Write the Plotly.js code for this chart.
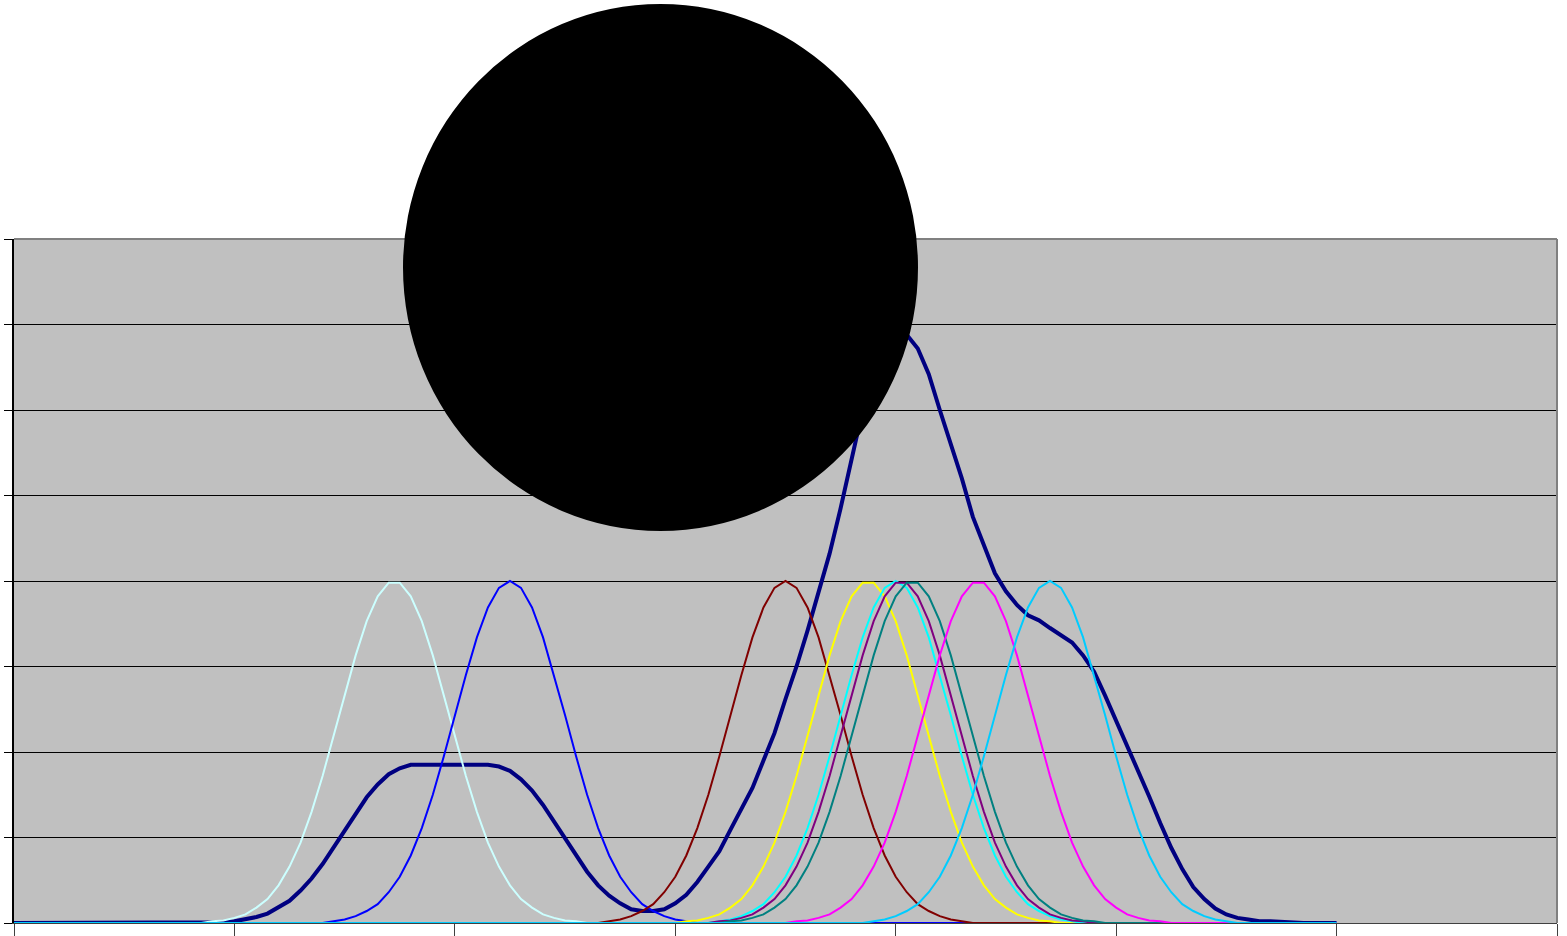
<!DOCTYPE html>
<html>
<head>
<meta charset="utf-8">
<script src="https://cdn.plot.ly/plotly-3.0.1.min.js"></script>
<style>
  html, body { margin: 0; padding: 0; background: #ffffff; }
  #chart { width: 1567px; height: 936px; }
</style>
</head>
<body>
<div id="chart"></div>
<script>
// ---- data (x = sample index 0..120, y = value) ----
const sampleCount = 121;

// thick navy curve, starting at index 18
const navyStart = 18;
const navyValues = [0.01,0.01,0.02,0.04,0.07,0.11,0.18,0.26,0.38,0.52,0.69,0.88,1.08,1.28,1.47,1.62,1.74,1.81,1.85,1.85,
  1.85,1.85,1.85,1.85,1.85,1.85,1.83,1.78,1.68,1.55,1.38,1.18,0.98,0.79,0.60,0.44,0.32,0.23,0.16,0.14,
  0.14,0.16,0.23,0.33,0.48,0.66,0.84,1.09,1.33,1.58,1.90,2.22,2.62,3.00,3.42,3.85,4.32,4.85,5.45,6.00,
  6.45,6.75,6.92,6.88,6.72,6.42,6.00,5.60,5.20,4.75,4.42,4.09,3.88,3.72,3.60,3.54,3.45,3.37,3.28,3.13,
  2.94,2.66,2.37,2.06,1.77,1.48,1.17,0.88,0.63,0.42,0.28,0.17,0.10,0.06,0.04,0.02,0.02,0.01];

const lightGreenStart = 0;
const lightGreenValues = [0];

const lightCyanStart = 18;
const lightCyanValues = [0.02,0.03,0.06,0.10,0.18,0.28,0.44,0.66,0.94,1.30,1.72,2.18,2.67,3.13,3.53,3.82,3.98,
  3.98,3.82,3.53,3.13,2.67,2.18,1.72,1.30,0.94,0.66,0.44,0.28,0.18,0.10,0.06,0.03,0.02];

const blueStart = 29;
const blueValues = [0.02,0.04,0.08,0.14,0.22,0.36,0.54,0.79,1.11,1.50,1.95,2.43,2.90,3.34,3.69,3.92,4.00,
  3.92,3.69,3.34,2.90,2.43,1.95,1.50,1.11,0.79,0.54,0.36,0.22,0.14,0.08,0.04,0.02];

const darkRedStart = 54;
const darkRedValues = [0.02,0.04,0.08,0.14,0.22,0.36,0.54,0.79,1.11,1.50,1.95,2.43,2.90,3.34,3.69,3.92,4.00,
  3.92,3.69,3.34,2.90,2.43,1.95,1.50,1.11,0.79,0.54,0.36,0.22,0.14,0.08,0.04,0.02];

const yellowStart = 61;
const yellowValues = [0.02,0.03,0.06,0.10,0.18,0.28,0.44,0.66,0.94,1.30,1.72,2.18,2.67,3.13,3.53,3.82,3.98,
  3.98,3.82,3.53,3.13,2.67,2.18,1.72,1.30,0.94,0.66,0.44,0.28,0.18,0.10,0.06,0.03,0.02];

const cyanStart = 64;
const cyanValues = [0.02,0.04,0.08,0.14,0.22,0.36,0.54,0.79,1.11,1.50,1.95,2.43,2.90,3.34,3.69,3.92,4.00,
  3.92,3.69,3.34,2.90,2.43,1.95,1.50,1.11,0.79,0.54,0.36,0.22,0.14,0.08,0.04,0.02];

const purpleStart = 64;
const purpleValues = [0.02,0.03,0.06,0.10,0.18,0.28,0.44,0.66,0.94,1.30,1.72,2.18,2.67,3.13,3.53,3.82,3.98,
  3.98,3.82,3.53,3.13,2.67,2.18,1.72,1.30,0.94,0.66,0.44,0.28,0.18,0.10,0.06,0.03,0.02];

const tealStart = 65;
const tealValues = [0.02,0.03,0.06,0.10,0.18,0.28,0.44,0.66,0.94,1.30,1.72,2.18,2.67,3.13,3.53,3.82,3.98,
  3.98,3.82,3.53,3.13,2.67,2.18,1.72,1.30,0.94,0.66,0.44,0.28,0.18,0.10,0.06,0.03,0.02];

const magentaStart = 71;
const magentaValues = [0.02,0.03,0.06,0.10,0.18,0.28,0.44,0.66,0.94,1.30,1.72,2.18,2.67,3.13,3.53,3.82,3.98,
  3.98,3.82,3.53,3.13,2.67,2.18,1.72,1.30,0.94,0.66,0.44,0.28,0.18,0.10,0.06,0.03,0.02];

const skyBlueStart = 78;
const skyBlueValues = [0.02,0.04,0.08,0.14,0.22,0.36,0.54,0.79,1.11,1.50,1.95,2.43,2.90,3.34,3.69,3.92,4.00,
  3.92,3.69,3.34,2.90,2.43,1.95,1.50,1.11,0.79,0.54,0.36,0.22,0.14,0.08,0.04,0.02];

// ---- build full series (zeros outside the read range) ----
const xIndex = Array.from({length: sampleCount}, (_, i) => i);
function fullSeries(start, vals) {
  const y = new Array(sampleCount).fill(0);
  vals.forEach((v, k) => { if (start + k < sampleCount) y[start + k] = v; });
  return y;
}

const seriesDefs = [
  {name: 'Series 0',  start: navyStart,       vals: navyValues,       color: '#000080', width: 4},
  {name: 'Series 1',  start: lightGreenStart, vals: lightGreenValues, color: '#CCFFCC', width: 2},
  {name: 'Series 2',  start: lightCyanStart,  vals: lightCyanValues,  color: '#CCFFFF', width: 2},
  {name: 'Series 3',  start: blueStart,       vals: blueValues,       color: '#0000FF', width: 2},
  {name: 'Series 4',  start: darkRedStart,    vals: darkRedValues,    color: '#800000', width: 2},
  {name: 'Series 5',  start: yellowStart,     vals: yellowValues,     color: '#FFFF00', width: 2},
  {name: 'Series 6',  start: cyanStart,       vals: cyanValues,       color: '#00FFFF', width: 2},
  {name: 'Series 7',  start: purpleStart,     vals: purpleValues,     color: '#800080', width: 2},
  {name: 'Series 8',  start: tealStart,       vals: tealValues,       color: '#008080', width: 2},
  {name: 'Series 9',  start: magentaStart,    vals: magentaValues,    color: '#FF00FF', width: 2},
  {name: 'Series 10', start: skyBlueStart,    vals: skyBlueValues,    color: '#00CCFF', width: 2}
];

// navy is drawn first so thin lines appear over it
const traces = seriesDefs.map(s => ({
  type: 'scatter',
  mode: 'lines',
  name: s.name,
  x: xIndex,
  y: fullSeries(s.start, s.vals),
  line: {color: s.color, width: s.width},
  hoverinfo: 'skip'
}));

// pixel geometry of the figure
const W = 1567, H = 936;
const mL = 14, mR = 10, mT = 239, mB = 13;
const plotW = W - mL - mR, plotH = H - mT - mB;
const px = v => (v - mL) / plotW;
const py = v => (H - mB - v) / plotH;

const layout = {
  width: W,
  height: H,
  margin: {l: mL, r: mR, t: mT, b: mB, pad: 0},
  paper_bgcolor: '#FFFFFF',
  plot_bgcolor: '#C0C0C0',
  showlegend: false,
  xaxis: {
    range: [0, 140],
    tick0: 0, dtick: 20,
    showgrid: false, zeroline: false,
    showline: true, linecolor: '#404040', linewidth: 1,
    ticks: 'outside', ticklen: 12, tickwidth: 1, tickcolor: '#404040',
    showticklabels: false,
    fixedrange: true
  },
  yaxis: {
    range: [0, 8],
    tick0: 0, dtick: 1,
    showgrid: true, gridcolor: '#000000', gridwidth: 1,
    zeroline: false,
    showline: true, linecolor: '#000000', linewidth: 2,
    ticks: 'outside', ticklen: 8, tickwidth: 1, tickcolor: '#000000',
    showticklabels: false,
    fixedrange: true
  },
  shapes: [
    {type: 'line', xref: 'paper', yref: 'paper', x0: 0, x1: 1, y0: 1, y1: 1,
     line: {color: '#808080', width: 2}},
    {type: 'line', xref: 'paper', yref: 'paper', x0: 1, x1: 1, y0: 0, y1: 1,
     line: {color: '#808080', width: 2}},
    {type: 'circle', xref: 'paper', yref: 'paper', layer: 'above',
     x0: px(403), x1: px(918), y0: py(531), y1: py(4),
     fillcolor: '#000000', line: {width: 0}}
  ]
};

Plotly.newPlot('chart', traces, layout, {displayModeBar: false, staticPlot: true});
</script>
</body>
</html>
